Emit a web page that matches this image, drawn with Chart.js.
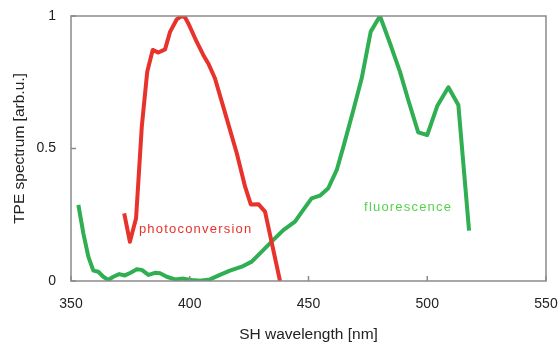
<!DOCTYPE html>
<html>
<head>
<meta charset="utf-8">
<script src="https://cdn.jsdelivr.net/npm/chart.js@4.4.1/dist/chart.umd.min.js"></script>
<style>
  html, body { margin: 0; padding: 0; background: #fff; }
  #wrap { width: 560px; height: 347px; position: relative; }
</style>
</head>
<body>
<div id="wrap"><canvas id="tpeChart"></canvas></div>
<script>
// photoconversion spectrum (red)
const photoWavelengths = [372.4, 374.8, 377.4, 379.8, 382.1, 384.4, 386.8, 389.6, 391.7, 394.5, 396.6, 398.0, 399.4, 402.9, 405.7, 407.8, 410.6, 414.1, 419.8, 423.3, 425.7, 428.9, 431.7, 438.0];
const photoValues = [0.255, 0.148, 0.237, 0.582, 0.79, 0.872, 0.862, 0.874, 0.94, 0.987, 1.0, 0.995, 0.972, 0.903, 0.853, 0.821, 0.765, 0.658, 0.482, 0.356, 0.289, 0.29, 0.262, 0];

// fluorescence spectrum (green)
const fluorWavelengths = [353.1, 355.2, 357.3, 359.4, 361.5, 363.6, 365.7, 367.8, 370.3, 372.7, 375.1, 377.7, 379.8, 382.6, 385.4, 387.5, 390.3, 393.8, 397.3, 400.8, 404.3, 408.5, 412.7, 416.9, 421.9, 426.1, 430.3, 435.2, 439.4, 444.3, 447.5, 451.3, 454.8, 458.3, 461.9, 464.7, 468.9, 472.4, 476.2, 480.1, 484.3, 488.5, 492.0, 496.2, 500.0, 504.2, 508.9, 513.1, 517.6];
const fluorValues = [0.287, 0.18, 0.092, 0.039, 0.035, 0.016, 0.004, 0.016, 0.026, 0.021, 0.031, 0.044, 0.042, 0.023, 0.031, 0.029, 0.016, 0.006, 0.009, 0.004, 0.001, 0.006, 0.023, 0.039, 0.054, 0.073, 0.111, 0.155, 0.192, 0.224, 0.265, 0.312, 0.322, 0.35, 0.419, 0.507, 0.645, 0.765, 0.941, 1.0, 0.897, 0.79, 0.683, 0.561, 0.551, 0.66, 0.731, 0.664, 0.19];

// axis ticks
const xTicks = [350, 400, 450, 500, 550];
const yTicks = [0, 0.5, 1];

const toPoints = (xs, ys) => xs.map((x, i) => ({ x: x, y: ys[i] }));

// frame with inward tick marks + curve labels
const framePlugin = {
  id: "frame",
  afterDatasetsDraw(chart) {
    const { ctx, chartArea: a, scales } = chart;
    ctx.save();
    ctx.strokeStyle = "#8a8a8a";
    ctx.lineWidth = 1.5;
    ctx.strokeRect(a.left, a.top, a.right - a.left, a.bottom - a.top);
    ctx.beginPath();
    xTicks.forEach((v) => {
      const px = scales.x.getPixelForValue(v);
      ctx.moveTo(px, a.bottom);
      ctx.lineTo(px, a.bottom - 5);
    });
    yTicks.forEach((v) => {
      const py = scales.y.getPixelForValue(v);
      ctx.moveTo(a.left, py);
      ctx.lineTo(a.left + 5, py);
    });
    ctx.stroke();

    ctx.font = "13px 'Liberation Sans', Arial, sans-serif";
    ctx.letterSpacing = "1.2px";
    ctx.textBaseline = "alphabetic";
    ctx.textAlign = "left";
    ctx.fillStyle = "#e8322c";
    ctx.fillText("photoconversion", scales.x.getPixelForValue(378.6), scales.y.getPixelForValue(0.18));
    ctx.fillStyle = "#55d24c";
    ctx.fillText("fluorescence", scales.x.getPixelForValue(473.4), scales.y.getPixelForValue(0.264));
    ctx.restore();
  },
};

new Chart(document.getElementById("tpeChart"), {
  type: "scatter",
  data: {
    datasets: [
      {
        label: "photoconversion",
        data: toPoints(photoWavelengths, photoValues),
        borderColor: "#e8322c",
        backgroundColor: "#e8322c",
      },
      {
        label: "fluorescence",
        data: toPoints(fluorWavelengths, fluorValues),
        borderColor: "#2fae52",
        backgroundColor: "#2fae52",
      },
    ],
  },
  options: {
    responsive: true,
    maintainAspectRatio: false,
    animation: false,
    layout: { padding: { top: 16, right: 14, left: 0, bottom: 0 } },
    elements: {
      line: { borderWidth: 4, tension: 0, borderJoinStyle: "round", borderCapStyle: "butt" },
      point: { radius: 0, hoverRadius: 0 },
    },
    datasets: { scatter: { showLine: true } },
    plugins: { legend: { display: false }, tooltip: { enabled: false } },
    scales: {
      x: {
        type: "linear",
        min: 350,
        max: 550,
        afterBuildTicks: (s) => { s.ticks = xTicks.map((v) => ({ value: v })); },
        afterFit: (s) => {
          s.height = 66;
          s.paddingLeft = 0;
          s.paddingRight = 0;
        },
        grid: { display: false, drawTicks: false },
        border: { display: false },
        ticks: {
          padding: 15,
          color: "#222",
          font: { family: "'Liberation Sans', Arial, sans-serif", size: 14 },
        },
        title: {
          display: true,
          text: "SH wavelength [nm]",
          color: "#222",
          padding: { top: 0, bottom: 3 },
          font: { family: "'Liberation Sans', Arial, sans-serif", size: 15.5 },
        },
      },
      y: {
        min: 0,
        max: 1,
        afterBuildTicks: (s) => { s.ticks = yTicks.map((v) => ({ value: v })); },
        afterFit: (s) => {
          s.width = 71;
          s.paddingTop = 0;
          s.paddingBottom = 0;
        },
        grid: { display: false, drawTicks: false },
        border: { display: false },
        ticks: {
          padding: 15,
          color: "#222",
          font: { family: "'Liberation Sans', Arial, sans-serif", size: 14 },
          callback: (v) => String(v),
        },
        title: {
          display: true,
          text: "TPE spectrum [arb.u.]",
          color: "#222",
          padding: { top: 10, bottom: 0 },
          font: { family: "'Liberation Sans', Arial, sans-serif", size: 15.5 },
        },
      },
    },
  },
  plugins: [framePlugin],
});
</script>
</body>
</html>
